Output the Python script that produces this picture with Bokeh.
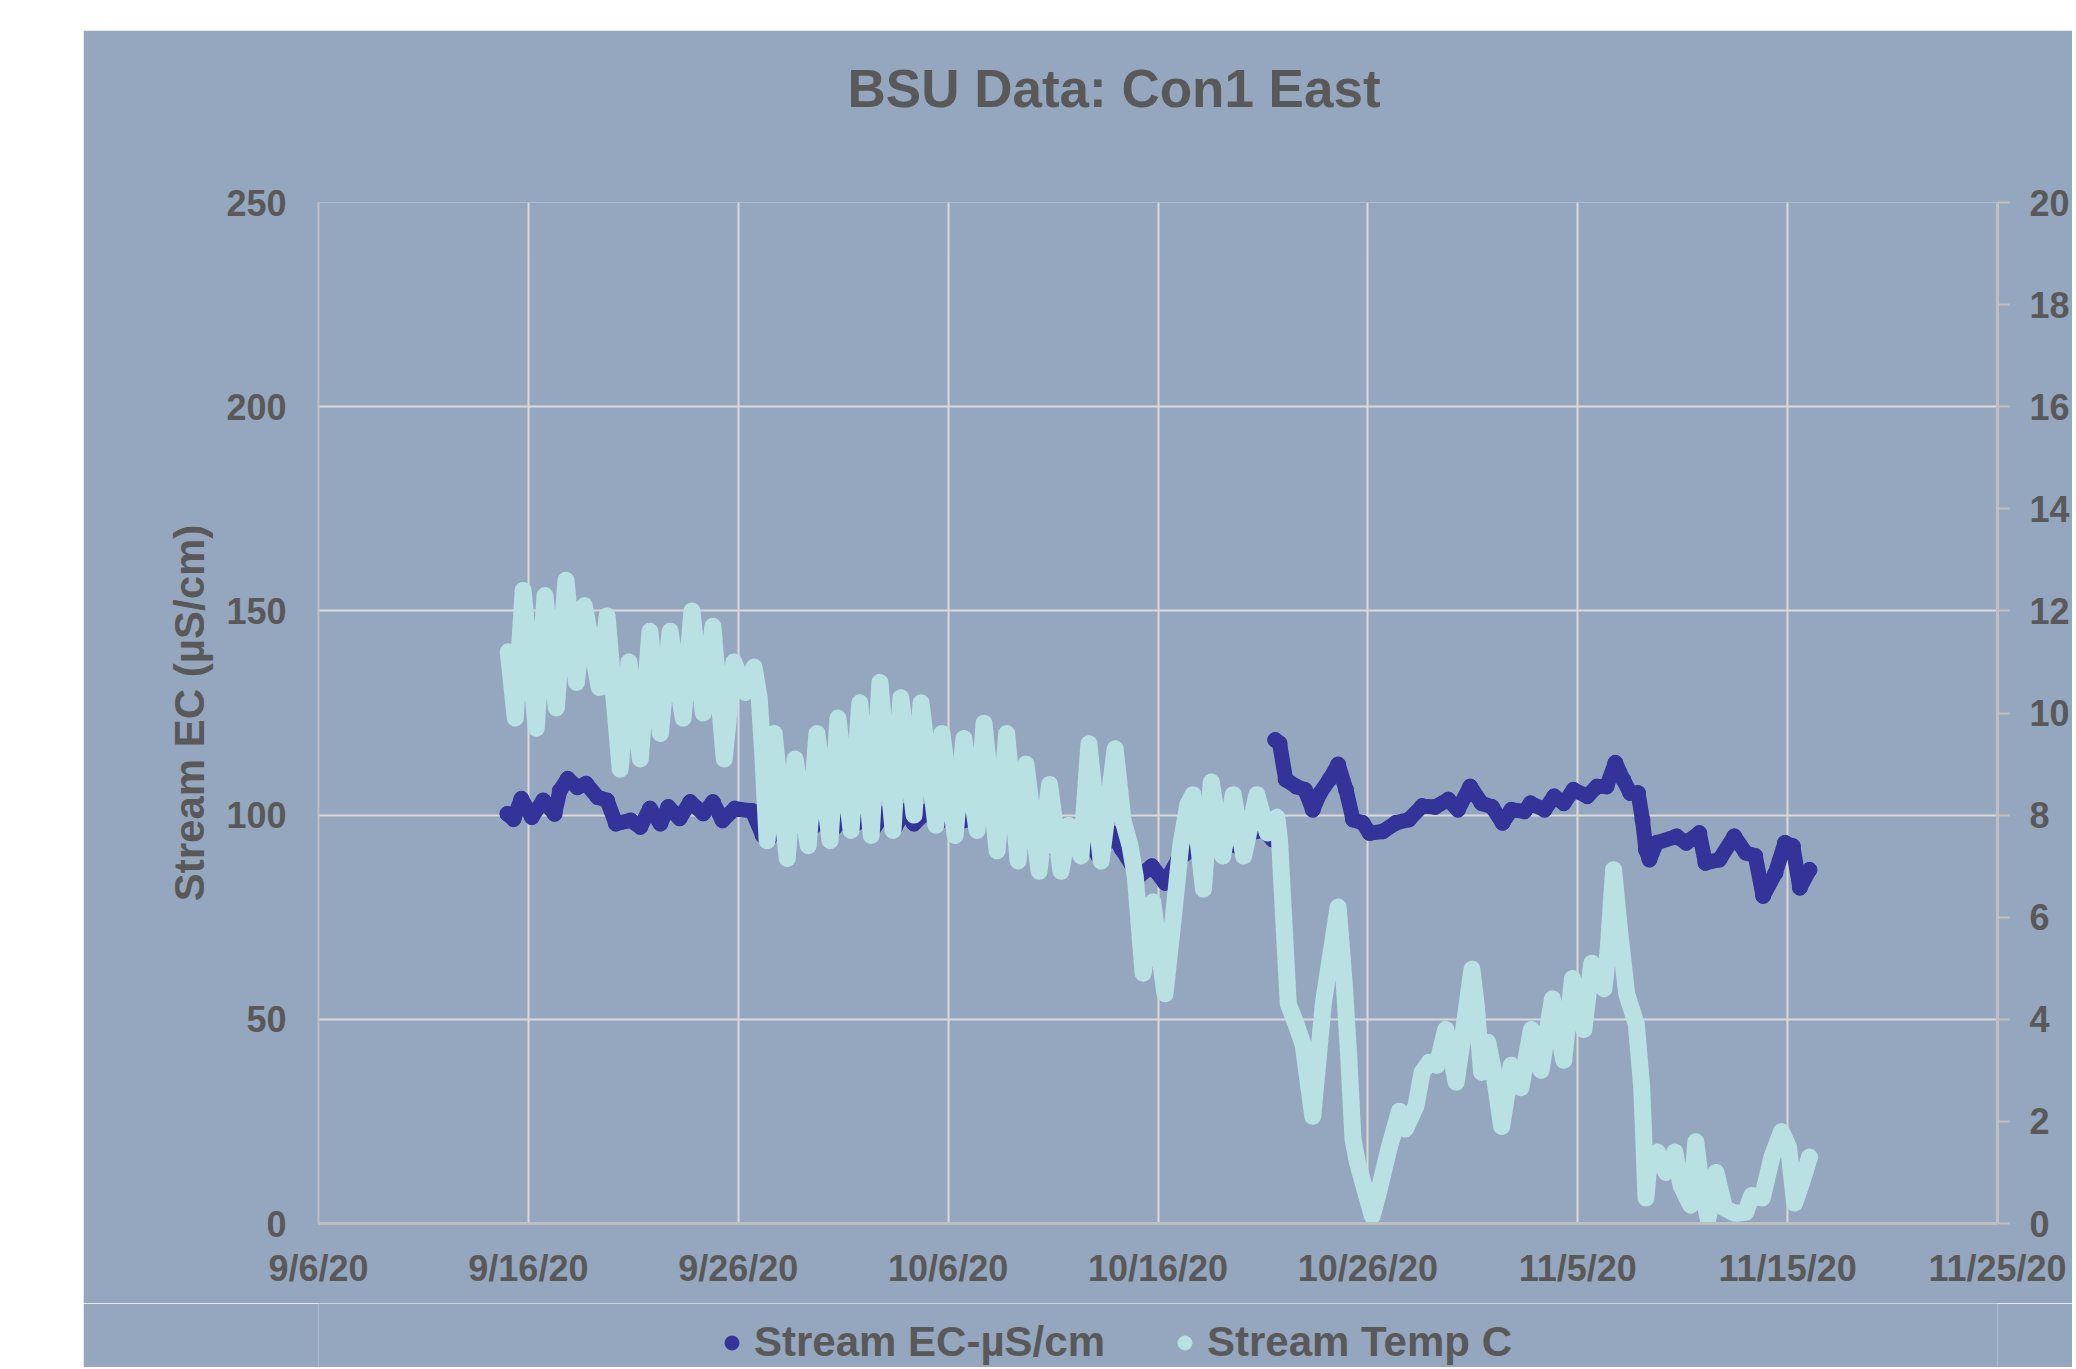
import pandas as pd
from bokeh.plotting import figure
from bokeh.layouts import column
from bokeh.models import Range1d, LinearAxis, FixedTicker, Legend, LegendItem
from bokeh.embed import file_html
from bokeh.resources import INLINE

# ---------------- data ----------------
tick_dates = ["2020-09-06", "2020-09-16", "2020-09-26", "2020-10-06", "2020-10-16",
              "2020-10-26", "2020-11-05", "2020-11-15", "2020-11-25"]
tick_labels = ["9/6/20", "9/16/20", "9/26/20", "10/6/20", "10/16/20",
               "10/26/20", "11/5/20", "11/15/20", "11/25/20"]
ec_ticks = [0, 50, 100, 150, 200, 250]
temp_ticks = [0, 2, 4, 6, 8, 10, 12, 14, 16, 18, 20]

# Stream EC (uS/cm), first deployment
ec1_time = ["2020-09-15 00:00", "2020-09-15 07:00", "2020-09-15 16:00", "2020-09-16 04:00",
            "2020-09-16 17:00", "2020-09-17 06:00", "2020-09-17 12:00", "2020-09-17 21:00",
            "2020-09-18 08:00", "2020-09-18 18:00", "2020-09-19 07:00", "2020-09-19 18:00",
            "2020-09-20 04:00", "2020-09-20 21:00", "2020-09-21 08:00", "2020-09-21 19:00",
            "2020-09-22 07:00", "2020-09-22 16:00", "2020-09-23 05:00", "2020-09-23 17:00",
            "2020-09-24 08:00", "2020-09-24 19:00", "2020-09-25 06:00", "2020-09-25 20:00",
            "2020-09-26 16:00", "2020-09-27 04:00", "2020-09-27 11:00", "2020-09-27 23:00",
            "2020-09-28 10:00", "2020-09-28 21:00", "2020-09-29 10:00", "2020-09-29 23:00",
            "2020-09-30 14:00", "2020-10-01 02:00", "2020-10-01 10:00", "2020-10-02 00:00",
            "2020-10-02 10:00", "2020-10-02 23:00", "2020-10-03 11:00", "2020-10-03 22:00",
            "2020-10-04 09:00", "2020-10-05 00:00", "2020-10-05 12:00", "2020-10-06 03:00",
            "2020-10-06 18:00", "2020-10-07 09:00", "2020-10-08 07:00", "2020-10-08 19:00",
            "2020-10-09 14:00", "2020-10-10 05:00", "2020-10-10 20:00", "2020-10-11 07:00",
            "2020-10-12 02:00", "2020-10-12 13:00", "2020-10-13 04:00", "2020-10-13 19:00",
            "2020-10-14 07:00", "2020-10-15 02:00", "2020-10-15 17:00", "2020-10-16 08:00",
            "2020-10-16 23:00", "2020-10-17 14:00", "2020-10-18 05:00", "2020-10-19 02:00",
            "2020-10-19 19:00", "2020-10-20 10:00", "2020-10-21 01:00", "2020-10-21 11:00"]
ec1_val = [100.3, 99.0, 104.0, 99.5, 103.6, 100.3, 106.0, 108.9,
           106.8, 107.7, 104.4, 103.6, 97.9, 98.7, 97.1, 101.6,
           97.9, 102.0, 99.2, 103.2, 100.4, 103.2, 98.7, 101.6,
           101.0, 95.0, 94.2, 97.9, 95.4, 98.7, 96.5, 98.5,
           96.9, 99.2, 97.1, 99.2, 96.5, 100.4, 96.9, 101.0,
           97.9, 101.0, 97.9, 100.4, 98.7, 100.8, 99.5, 98.1,
           100.5, 99.0, 92.4, 90.8, 92.4, 94.0, 90.0, 95.6,
           91.5, 85.0, 87.5, 83.4, 89.1, 91.5, 95.6, 93.2,
           92.4, 95.6, 96.4, 94.0]

# Stream EC (uS/cm), second deployment
ec2_time = ["2020-10-21 14:00", "2020-10-21 19:00", "2020-10-22 02:00", "2020-10-22 14:00",
            "2020-10-23 00:00", "2020-10-23 09:00", "2020-10-23 17:00", "2020-10-24 04:00",
            "2020-10-24 14:00", "2020-10-24 23:00", "2020-10-25 07:00", "2020-10-25 18:00",
            "2020-10-26 02:00", "2020-10-26 17:00", "2020-10-27 08:00", "2020-10-27 23:00",
            "2020-10-28 14:00", "2020-10-29 05:00", "2020-10-29 20:00", "2020-10-30 07:00",
            "2020-10-30 21:00", "2020-10-31 10:00", "2020-10-31 22:00", "2020-11-01 10:00",
            "2020-11-01 20:00", "2020-11-02 11:00", "2020-11-02 18:00", "2020-11-03 10:00",
            "2020-11-03 21:00", "2020-11-04 08:00", "2020-11-04 19:00", "2020-11-05 11:00",
            "2020-11-05 22:00", "2020-11-06 09:00", "2020-11-06 19:00", "2020-11-07 04:00",
            "2020-11-07 12:00", "2020-11-07 21:00", "2020-11-08 02:00", "2020-11-08 06:00",
            "2020-11-08 10:00", "2020-11-08 18:00", "2020-11-09 17:00", "2020-11-10 04:00",
            "2020-11-10 19:00", "2020-11-11 02:00", "2020-11-11 18:00", "2020-11-12 11:00",
            "2020-11-13 00:00", "2020-11-13 11:00", "2020-11-13 20:00", "2020-11-14 10:00",
            "2020-11-14 21:00", "2020-11-15 06:00", "2020-11-15 14:00", "2020-11-16 01:00"]
ec2_val = [118.4, 117.6, 108.7, 107.0, 106.2, 101.3, 105.3, 108.7,
           112.4, 106.2, 98.9, 98.1, 95.6, 96.0, 98.1, 98.9,
           102.2, 102.0, 103.8, 101.3, 107.0, 102.9, 102.0, 98.1,
           101.3, 100.9, 102.9, 101.3, 104.6, 102.9, 106.2, 104.6,
           107.0, 107.0, 112.8, 108.7, 105.4, 105.4, 98.9, 91.5,
           89.1, 93.2, 94.8, 93.2, 95.6, 88.3, 89.1, 94.8,
           90.8, 90.0, 80.2, 85.8, 93.2, 92.4, 82.2, 86.6]

# Stream Temp (C)
temp_time = ["2020-09-15 01:00", "2020-09-15 09:00", "2020-09-15 18:00", "2020-09-16 09:00",
             "2020-09-16 19:00", "2020-09-17 08:00", "2020-09-17 19:00", "2020-09-18 07:00",
             "2020-09-18 16:00", "2020-09-19 09:00", "2020-09-19 18:00", "2020-09-20 09:00",
             "2020-09-20 19:00", "2020-09-21 08:00", "2020-09-21 19:00", "2020-09-22 07:00",
             "2020-09-22 18:00", "2020-09-23 09:00", "2020-09-23 19:00", "2020-09-24 08:00",
             "2020-09-24 19:00", "2020-09-25 08:00", "2020-09-25 19:00", "2020-09-26 08:00",
             "2020-09-26 18:00", "2020-09-27 00:00", "2020-09-27 04:00", "2020-09-27 09:00",
             "2020-09-27 17:00", "2020-09-28 08:00", "2020-09-28 17:00", "2020-09-29 08:00",
             "2020-09-29 18:00", "2020-09-30 09:00", "2020-09-30 18:00", "2020-10-01 09:00",
             "2020-10-01 19:00", "2020-10-02 08:00", "2020-10-02 18:00", "2020-10-03 09:00",
             "2020-10-03 18:00", "2020-10-04 09:00", "2020-10-04 17:00", "2020-10-05 10:00",
             "2020-10-05 17:00", "2020-10-06 08:00", "2020-10-06 18:00", "2020-10-07 09:00",
             "2020-10-07 17:00", "2020-10-08 08:00", "2020-10-08 19:00", "2020-10-09 08:00",
             "2020-10-09 17:00", "2020-10-10 08:00", "2020-10-10 20:00", "2020-10-11 09:00",
             "2020-10-11 18:00", "2020-10-12 08:00", "2020-10-12 17:00", "2020-10-13 07:00",
             "2020-10-13 23:00", "2020-10-14 08:00", "2020-10-14 16:00", "2020-10-14 22:00",
             "2020-10-15 07:00", "2020-10-15 18:00", "2020-10-16 08:00", "2020-10-16 17:00",
             "2020-10-17 02:00", "2020-10-17 10:00", "2020-10-17 16:00", "2020-10-18 04:00",
             "2020-10-18 13:00", "2020-10-19 02:00", "2020-10-19 14:00", "2020-10-20 02:00",
             "2020-10-20 17:00", "2020-10-21 05:00", "2020-10-21 16:00", "2020-10-21 19:00",
             "2020-10-22 05:00", "2020-10-22 14:00", "2020-10-22 22:00", "2020-10-23 09:00",
             "2020-10-23 21:00", "2020-10-24 05:00", "2020-10-24 14:00", "2020-10-24 21:00",
             "2020-10-25 02:00", "2020-10-25 07:00", "2020-10-25 12:00", "2020-10-26 05:00",
             "2020-10-26 12:00", "2020-10-27 00:00", "2020-10-27 12:00", "2020-10-27 19:00",
             "2020-10-28 07:00", "2020-10-28 14:00", "2020-10-28 22:00", "2020-10-29 07:00",
             "2020-10-29 17:00", "2020-10-30 05:00", "2020-10-30 12:00", "2020-10-30 23:00",
             "2020-10-31 04:00", "2020-10-31 10:00", "2020-10-31 17:00", "2020-11-01 00:00",
             "2020-11-01 09:00", "2020-11-01 20:00", "2020-11-02 07:00", "2020-11-02 19:00",
             "2020-11-03 06:00", "2020-11-03 19:00", "2020-11-04 08:00", "2020-11-04 18:00",
             "2020-11-05 07:00", "2020-11-05 16:00", "2020-11-06 06:00", "2020-11-06 11:00",
             "2020-11-06 17:00", "2020-11-07 00:00", "2020-11-07 08:00", "2020-11-07 19:00",
             "2020-11-08 01:00", "2020-11-08 03:00", "2020-11-08 06:00", "2020-11-08 10:00",
             "2020-11-08 19:00", "2020-11-09 05:00", "2020-11-09 15:00", "2020-11-09 22:00",
             "2020-11-10 09:00", "2020-11-10 15:00", "2020-11-10 20:00", "2020-11-11 05:00",
             "2020-11-11 14:00", "2020-11-12 00:00", "2020-11-12 12:00", "2020-11-13 00:00",
             "2020-11-13 07:00", "2020-11-13 19:00", "2020-11-14 06:00", "2020-11-14 17:00",
             "2020-11-15 01:00", "2020-11-15 08:00", "2020-11-15 16:00", "2020-11-16 01:00"]
temp_val = [11.2, 9.9, 12.4, 9.7, 12.3, 10.1, 12.6, 10.6,
            12.1, 10.5, 11.9, 8.9, 11.0, 9.1, 11.6, 9.6,
            11.6, 9.9, 12.0, 10.0, 11.7, 9.1, 11.0, 10.4,
            10.9, 10.3, 9.2, 7.5, 9.6, 7.15, 9.1, 7.4,
            9.6, 7.5, 9.9, 7.7, 10.2, 7.6, 10.6, 7.7,
            10.3, 8.0, 10.2, 7.8, 9.6, 7.6, 9.5, 7.7,
            9.8, 7.3, 9.6, 7.1, 9.0, 6.9, 8.6, 6.9,
            7.8, 7.2, 9.4, 7.1, 9.3, 7.9, 7.4, 6.8,
            4.9, 6.3, 4.5, 5.9, 7.4, 8.2, 8.4, 6.55,
            8.65, 7.2, 8.4, 7.2, 8.4, 7.65, 7.96, 7.5,
            4.3, 3.9, 3.5, 2.1, 4.3, 5.2, 6.2, 4.7,
            3.3, 1.65, 1.2, 0.15, 0.6, 1.46, 2.2, 1.85,
            2.3, 2.96, 3.16, 3.1, 3.8, 2.77, 3.6, 4.98,
            4.26, 2.96, 3.55, 2.96, 1.9, 3.1, 2.66, 3.8,
            3.0, 4.4, 3.2, 4.8, 3.8, 5.1, 4.6, 5.4,
            6.93, 5.7, 4.5, 3.9, 2.7, 1.9, 0.5, 1.3,
            1.4, 1.0, 1.4, 0.75, 0.36, 1.6, 0.9, 0.1,
            1.0, 0.3, 0.2, 0.22, 0.55, 0.5, 1.3, 1.8,
            1.5, 0.4, 0.8, 1.3]

# ---------------- style ----------------
BG = "#94A7BE"
GRID = "#D9D9D9"
AXIS = "#BFBFBF"
TXT = "#595959"
EC_COLOR = "#333399"
TEMP_COLOR = "#B9E0E3"
FONT = "Liberation Sans"

tick_ts = [pd.Timestamp(d) for d in tick_dates]
tick_ms = [t.value / 1e6 for t in tick_ts]

p = figure(width=1989, height=1273, x_axis_type="datetime",
           x_range=Range1d(tick_ts[0], tick_ts[-1]), y_range=Range1d(0, 250),
           output_backend="svg", toolbar_location=None,
           background_fill_color=BG, border_fill_color=BG,
           min_border_left=235, min_border_top=170, min_border_bottom=80,
           min_border_right=0)
p.margin = (30, 0, 0, 83)
p.outline_line_color = None
p.extra_y_ranges = {"temp": Range1d(0, 20)}

# title (trailing empty line keeps the text high in the top border)
p.title.text = "BSU Data: Con1 East\n"
p.title.text_font = FONT
p.title.text_font_size = "53px"
p.title.text_font_style = "bold"
p.title.text_color = TXT
p.title.align = "left"
p.title.offset = 529
p.title.vertical_align = "bottom"
p.title.standoff = 52

# axes
xa = p.xaxis[0]
xa.ticker = FixedTicker(ticks=tick_ms)
xa.major_label_overrides = {ms: lab for ms, lab in zip(tick_ms, tick_labels)}
ya = p.yaxis[0]
ya.ticker = FixedTicker(ticks=ec_ticks)
ya.axis_label = "Stream EC (\u00b5S/cm)"
ra = LinearAxis(y_range_name="temp", ticker=FixedTicker(ticks=temp_ticks))
p.add_layout(ra, "right")

for ax in (xa, ya, ra):
    ax.major_label_text_font = FONT
    ax.major_label_text_font_size = "36px"
    ax.major_label_text_font_style = "bold"
    ax.major_label_text_color = TXT
    ax.axis_line_color = AXIS
    ax.minor_tick_line_color = None
    ax.major_tick_in = 0

xa.major_tick_line_color = None
xa.major_tick_out = 0
xa.axis_line_width = 3
xa.major_label_standoff = 24

ya.major_tick_line_color = None
ya.major_tick_out = 0
ya.axis_line_width = 2
ya.major_label_standoff = 32
ya.axis_label_text_font = FONT
ya.axis_label_text_font_size = "42px"
ya.axis_label_text_font_style = "bold"
ya.axis_label_text_color = TXT
ya.axis_label_standoff = 10

ra.major_tick_out = 12
ra.major_tick_line_color = AXIS
ra.major_tick_line_width = 2
ra.axis_line_width = 3
ra.major_label_standoff = 20

p.xgrid.grid_line_color = GRID
p.xgrid.grid_line_width = 2
p.ygrid.grid_line_color = GRID
p.ygrid.grid_line_width = 2

# ---------------- data glyphs ----------------
def ts(lst):
    return [pd.Timestamp(s) for s in lst]

p.line(ts(ec1_time), ec1_val, line_width=15, color=EC_COLOR, line_join="round", line_cap="round")
p.scatter(ts(ec1_time), ec1_val, size=15, color=EC_COLOR)
p.line(ts(ec2_time), ec2_val, line_width=15, color=EC_COLOR, line_join="round", line_cap="round")
p.scatter(ts(ec2_time), ec2_val, size=15, color=EC_COLOR)

p.line(ts(temp_time), temp_val, line_width=17, color=TEMP_COLOR, line_join="round",
       line_cap="round", y_range_name="temp")
p.scatter(ts(temp_time), temp_val, size=15, color=TEMP_COLOR, y_range_name="temp")

# ---------------- legend strip (continues the chart background) ----------------
lg = figure(width=1989, height=64, x_axis_type="datetime",
            x_range=Range1d(tick_ts[0], tick_ts[-1]), y_range=Range1d(0, 250),
            output_backend="svg", toolbar_location=None,
            x_axis_location=None, y_axis_location=None,
            background_fill_color=BG, border_fill_color=BG, min_border=0)
lg.margin = (0, 0, 0, 83)
lg.outline_line_color = None
lg.grid.visible = False
# hidden copies of the two series, used only as legend keys
k_ec = lg.scatter(ts(ec1_time), ec1_val, size=15, color=EC_COLOR, visible=False)
k_temp = lg.scatter(ts(temp_time), temp_val, size=15, color=TEMP_COLOR, visible=False)

legend = Legend(items=[LegendItem(label="Stream EC-\u00b5S/cm", renderers=[k_ec]),
                       LegendItem(label="Stream Temp C", renderers=[k_temp])],
                orientation="horizontal", location=(396, 1),
                background_fill_alpha=0, border_line_color=None,
                inactive_fill_alpha=0,
                label_text_font=FONT, label_text_font_size="42px",
                label_text_font_style="bold", label_text_color=TXT,
                glyph_width=35, glyph_height=35, label_standoff=5,
                label_width=392, spacing=21, padding=0, margin=0)
lg.add_layout(legend, "center")

layout = column(p, lg, spacing=0)
open("out.html", "w").write(file_html(layout, INLINE))
